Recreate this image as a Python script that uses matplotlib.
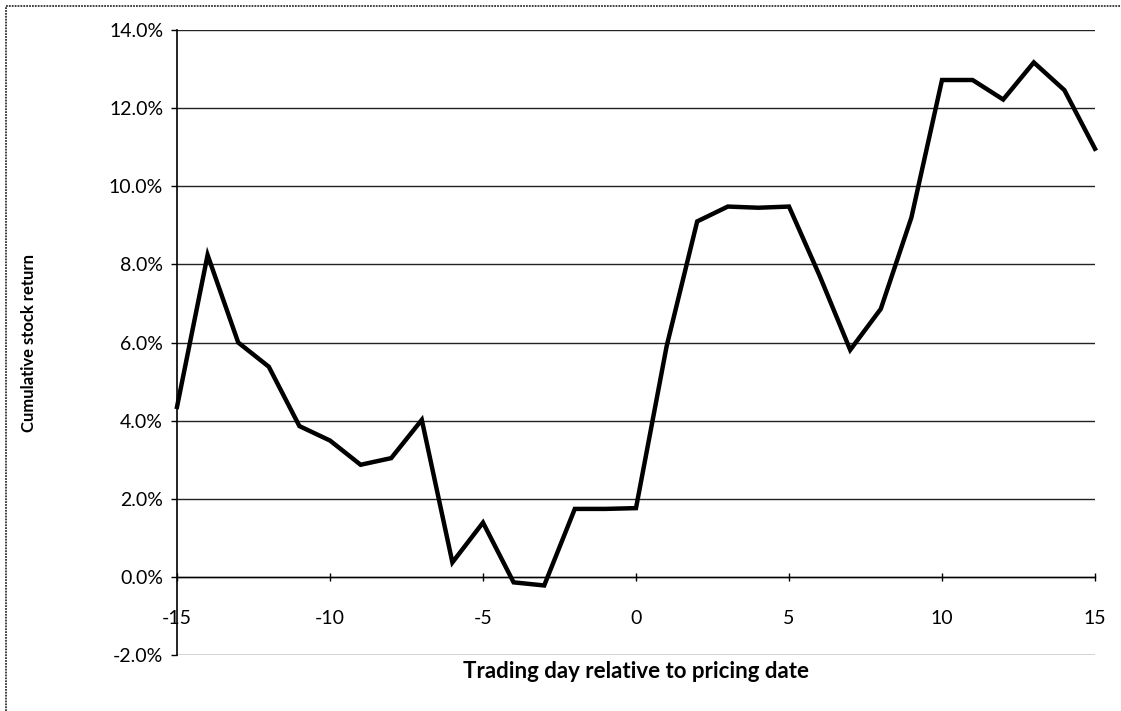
import matplotlib
matplotlib.use("Agg")
import matplotlib.pyplot as plt
from matplotlib.ticker import FuncFormatter

plt.rcParams['font.family'] = ['Lato', 'DejaVu Sans']
plt.rcParams['axes.unicode_minus'] = False

days = list(range(-15, 16))
cum_return = [4.35, 8.24, 6.0, 5.38, 3.86, 3.49, 2.87, 3.04, 4.02, 0.37, 1.39, -0.14, -0.22,
              1.74, 1.74, 1.76, 5.9, 9.1, 9.48, 9.45, 9.48, 7.71, 5.81, 6.86, 9.2,
              12.72, 12.72, 12.22, 13.17, 12.46, 10.96]
y_ticks = [-2, 0, 2, 4, 6, 8, 10, 12, 14]
x_ticks = [-15, -10, -5, 0, 5, 10, 15]

W, H = 1121, 711
fig = plt.figure(figsize=(W / 100, H / 100), dpi=100)
ax = fig.add_axes([177 / W, 1 - 655 / H, (1095 - 177) / W, (655 - 30) / H])

ax.plot(days, cum_return, color='black', lw=3.2, solid_joinstyle='miter', zorder=3, clip_on=False)

ax.set_xlim(-15, 15)
ax.set_ylim(-2, 14)
ax.set_yticks(y_ticks)
ax.set_xticks(x_ticks)
ax.yaxis.set_major_formatter(FuncFormatter(lambda v, p: f"{v:.1f}%"))
ax.grid(axis='y', color='#222222', lw=1.0)
ax.set_axisbelow(True)

for s in ['top', 'right']:
    ax.spines[s].set_visible(False)
ax.spines['bottom'].set_position(('data', 0))
ax.spines['bottom'].set_linewidth(1.0)
ax.spines['left'].set_linewidth(1.2)

ax.tick_params(axis='y', direction='out', length=4, width=1, labelsize=14, pad=6)
ax.tick_params(axis='x', direction='inout', length=6, width=1, labelsize=14, pad=21)

ax.set_xlabel('Trading day relative to pricing date', fontsize=16, fontweight='bold')
ax.xaxis.set_label_coords(0.5, -0.010)
ax.set_ylabel('Cumulative stock return', fontsize=12, fontweight='bold')
ax.yaxis.set_label_coords((37 - 177) / (1095 - 177), 0.5)

# outer chart border (partially cropped in the scan)
fig.add_artist(plt.Line2D([6 / W, 6 / W], [0, 1 - 6 / H], transform=fig.transFigure,
                          color='#333333', lw=1.3, linestyle=(0, (1, 0.6))))
fig.add_artist(plt.Line2D([6 / W, 1], [1 - 6 / H, 1 - 6 / H], transform=fig.transFigure,
                          color='#333333', lw=1.3, linestyle=(0, (1, 0.6))))

fig.savefig('out.png', dpi=100)
